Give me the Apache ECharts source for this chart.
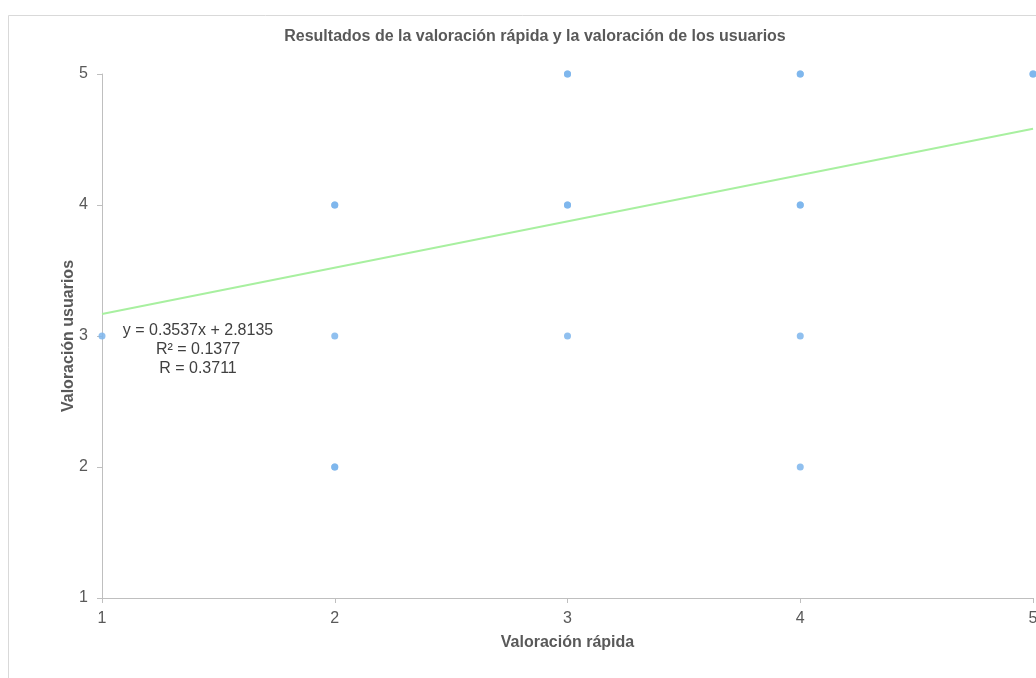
<!DOCTYPE html>
<html>
<head>
<meta charset="utf-8">
<script src="https://cdn.jsdelivr.net/npm/echarts@6/dist/echarts.min.js"></script>
<style>
html,body{margin:0;padding:0;background:#fff;}
#c{width:1036px;height:678px;}
</style>
</head>
<body>
<div id="c"></div>
<script>
// Data (duplicates appear as darker dots)
const xValues = [1, 2, 2, 2, 2, 2, 3, 3, 3, 3, 3, 4, 4, 4, 4, 4, 4, 5, 5];
const yValues = [3, 4, 4, 3, 2, 2, 5, 5, 4, 4, 3, 5, 5, 4, 4, 3, 2, 5, 5];
const trendX = [1, 5];
const trendY = [3.1672, 4.5820];
const titleText = 'Resultados de la valoración rápida y la valoración de los usuarios';
const xName = 'Valoración rápida';
const yName = 'Valoración usuarios';
const eqLines = ['y = 0.3537x + 2.8135', 'R² = 0.1377', 'R = 0.3711'];

const pts = xValues.map((x, i) => [x, yValues[i]]);
const trend = trendX.map((x, i) => [x, trendY[i]]);

const font = 'Liberation Sans, Arial, sans-serif';
const chart = echarts.init(document.getElementById('c'), null, {renderer: 'canvas'});
chart.setOption({
  animation: false,
  backgroundColor: '#fff',
  title: {
    text: titleText,
    left: 530, top: 24, textAlign: 'center',
    textStyle: {fontFamily: font, fontSize: 16, fontWeight: 'bold', color: '#595959'}
  },
  graphic: [
    {type: 'rect', shape: {x: 8.5, y: 15.5, width: 1100, height: 700},
     style: {fill: null, stroke: '#d9d9d9', lineWidth: 1}, silent: true, z: -1},
    {type: 'text', x: 198, y: 321, style: {text: eqLines.join('\n'), textAlign: 'center',
      font: '16px Liberation Sans, Arial, sans-serif', fill: '#404040', lineHeight: 19}, z: 10}
  ],
  grid: {left: 102, right: 3, top: 74, bottom: 80, containLabel: false, outerBoundsMode: 'none'},
  xAxis: {
    type: 'value', min: 1, max: 5, interval: 1,
    name: xName, nameLocation: 'middle', nameGap: 37, nameMoveOverlap: false,
    nameTextStyle: {fontFamily: font, fontSize: 16, fontWeight: 'bold', color: '#595959'},
    axisLine: {show: true, lineStyle: {color: '#bfbfbf', width: 1}},
    axisTick: {show: true, length: 5, lineStyle: {color: '#bfbfbf'}},
    axisLabel: {fontFamily: font, fontSize: 16, color: '#595959', margin: 13},
    splitLine: {show: false}
  },
  yAxis: {
    type: 'value', min: 1, max: 5, interval: 1,
    name: yName, nameLocation: 'middle', nameGap: 25, nameRotate: 90, nameMoveOverlap: false,
    nameTextStyle: {fontFamily: font, fontSize: 16, fontWeight: 'bold', color: '#595959'},
    axisLine: {show: true, lineStyle: {color: '#bfbfbf', width: 1}},
    axisTick: {show: true, length: 5, lineStyle: {color: '#bfbfbf'}},
    axisLabel: {fontFamily: font, fontSize: 16, color: '#595959', margin: 14},
    splitLine: {show: false}
  },
  series: [
    {
      type: 'line', data: trend, showSymbol: false, symbol: 'none',
      lineStyle: {color: '#a8f0a0', width: 2}, z: 2
    },
    {
      type: 'scatter', data: pts, symbolSize: 7,
      itemStyle: {color: '#7cb5ec', opacity: 0.85}, z: 3
    }
  ]
});
</script>
</body>
</html>
